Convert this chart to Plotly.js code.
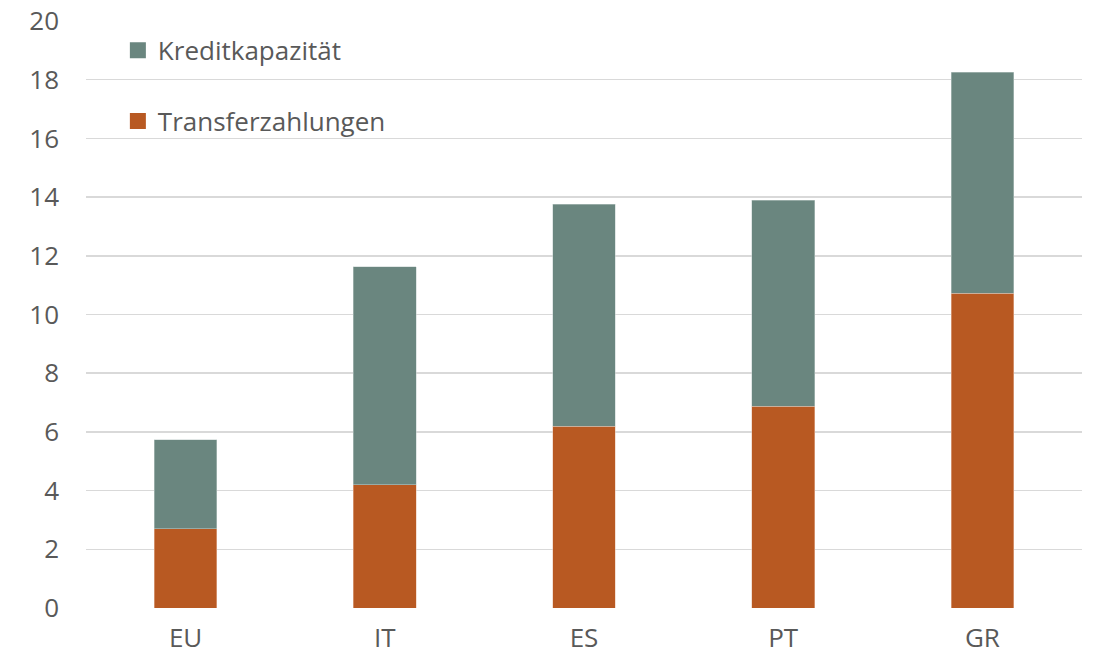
<!DOCTYPE html>
<html><head><meta charset="utf-8">
<script src="https://cdn.plot.ly/plotly-3.0.1.min.js"></script>
<style>html,body{margin:0;padding:0;background:#fff}#chart{width:1097px;height:663px}</style>
</head><body><div id="chart"></div>
<script>
const categories = ["EU", "IT", "ES", "PT", "GR"];
const transferzahlungen = [2.7, 4.2, 6.2, 6.88, 10.73];
const kreditkapazitaet = [3.03, 7.42, 7.56, 7.02, 7.53];
const yTicks = [0, 2, 4, 6, 8, 10, 12, 14, 16, 18, 20];

const fontFam = "Open Sans, sans-serif";
const cTransfer = "#B85922", cKredit = "#6A867F";
const traces = [
  {type: "bar", name: "Transferzahlungen", x: categories, y: transferzahlungen, showlegend: false,
   marker: {color: cTransfer, line: {color: "#E9C4AE", width: 0.5}}, hoverinfo: "y"},
  {type: "bar", name: "Kreditkapazität", x: categories, y: kreditkapazitaet, showlegend: false,
   marker: {color: cKredit, line: {color: "#C4D0CD", width: 0.5}}, hoverinfo: "y"},
  {type: "scatter", mode: "markers", name: "Kreditkapazität", x: [null], y: [null], legendgroup: "k", legendrank: 1,
   marker: {symbol: "square", size: 16, color: cKredit}},
  {type: "scatter", mode: "markers", name: "Transferzahlungen", x: [null], y: [null], legendgroup: "t", legendrank: 2,
   marker: {symbol: "square", size: 16, color: cTransfer}}
];
const layout = {
  width: 1097, height: 663,
  margin: {l: 86, r: 15, t: 21, b: 55},
  barmode: "stack", bargap: 0.685,
  paper_bgcolor: "#fff", plot_bgcolor: "#fff",
  font: {family: fontFam, size: 26, color: "#595959"},
  showlegend: true,
  legend: {x: 0.032, y: 0.99, xanchor: "left", yanchor: "top", traceorder: "grouped",
           tracegroupgap: 34, bgcolor: "rgba(0,0,0,0)", font: {size: 26, color: "#595959"}},
  xaxis: {type: "category", showgrid: false, zeroline: false, showline: false, ticks: "", tickfont: {size: 26}, ticklabelstandoff: 12},
  yaxis: {range: [0, 20], tickvals: yTicks, showgrid: true, gridcolor: "#D9D9D9", gridwidth: 1.5,
          zeroline: false, showline: false, ticks: "", ticklabelstandoff: 26, tickfont: {size: 26}}
};
Plotly.newPlot("chart", traces, layout, {displayModeBar: false, staticPlot: true});
</script></body></html>
